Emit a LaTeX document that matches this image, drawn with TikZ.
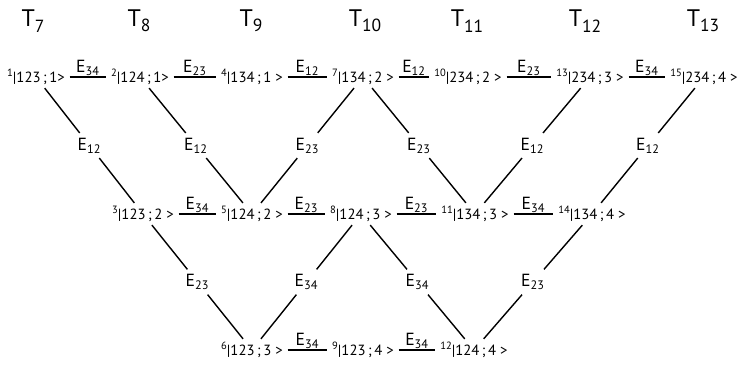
\documentclass[tikz,border=0pt]{standalone}
\usepackage{fontspec}
\setmainfont{PT Sans}
\usetikzlibrary{calc}

\newcommand{\tsub}[1]{\raisebox{-0.45ex}{\fontsize{12.5}{13}\selectfont #1}}
\newcommand{\knum}[1]{\raisebox{0.75ex}{\fontsize{7.5}{8}\selectfont #1}}

\begin{document}
\begin{tikzpicture}[
    x=0.025cm, y=-0.025cm,
    ket/.style={inner xsep=3pt, inner ysep=2pt, font=\fontsize{10.5}{12}\selectfont},
    lbl/.style={inner sep=3pt, font=\fontsize{12.5}{14}\selectfont},
    hlbl/.style={above, inner sep=0.5pt, font=\fontsize{12.5}{14}\selectfont},
    tlbl/.style={font=\fontsize{17}{20}\selectfont},
    line width=1pt
]
    \useasboundingbox (0,0) rectangle (737,369);

    % time steps
    \node[tlbl] (t7)  at (33,21)  {T\tsub{7}};
    \node[tlbl] (t8)  at (139,21) {T\tsub{8}};
    \node[tlbl] (t9)  at (251,21) {T\tsub{9}};
    \node[tlbl] (t10) at (365,21) {T\tsub{10}};
    \node[tlbl] (t11) at (467,21) {T\tsub{11}};
    \node[tlbl] (t12) at (585,21) {T\tsub{12}};
    \node[tlbl] (t13) at (703,21) {T\tsub{13}};

    % states, top row
    \node[ket] (s1)  at (36,77)  {\knum{1}|123\,;\,1>};
    \node[ket] (s2)  at (140,77) {\knum{2}|124\,;\,1>};
    \node[ket] (s4)  at (252,77) {\knum{4}|134\,;\,1 >};
    \node[ket] (s7)  at (363,77) {\knum{7}|134\,;\,2 >};
    \node[ket] (s10) at (468,77) {\knum{10}|234\,;\,2 >};
    \node[ket] (s13) at (590,77) {\knum{13}|234\,;\,3 >};
    \node[ket] (s15) at (704,77) {\knum{15}|234\,;\,4 >};

    % states, middle row
    \node[ket] (s3)  at (143,214) {\knum{3}|123\,;\,2 >};
    \node[ket] (s5)  at (252,214) {\knum{5}|124\,;\,2 >};
    \node[ket] (s8)  at (361,214) {\knum{8}|124\,;\,3 >};
    \node[ket] (s11) at (475,214) {\knum{11}|134\,;\,3 >};
    \node[ket] (s14) at (592,214) {\knum{14}|134\,;\,4 >};

    % states, bottom row
    \node[ket] (s6)  at (252,350) {\knum{6}|123\,;\,3 >};
    \node[ket] (s9)  at (363,350) {\knum{9}|123\,;\,4 >};
    \node[ket] (s12) at (474,350) {\knum{12}|124\,;\,4 >};

    % horizontal steps
    \draw (s1) -- node[hlbl] {E\textsubscript{34}} (s2);
    \draw (s2) -- node[hlbl] {E\textsubscript{23}} (s4);
    \draw (s4) -- node[hlbl] {E\textsubscript{12}} (s7);
    \draw (s7) -- node[hlbl] {E\textsubscript{12}} (s10);
    \draw (s10) -- node[hlbl] {E\textsubscript{23}} (s13);
    \draw (s13) -- node[hlbl] {E\textsubscript{34}} (s15);
    \draw (s3) -- node[hlbl] {E\textsubscript{34}} (s5);
    \draw (s5) -- node[hlbl] {E\textsubscript{23}} (s8);
    \draw (s8) -- node[hlbl] {E\textsubscript{23}} (s11);
    \draw (s11) -- node[hlbl] {E\textsubscript{34}} (s14);
    \draw (s6) -- node[hlbl] {E\textsubscript{34}} (s9);
    \draw (s9) -- node[hlbl] {E\textsubscript{34}} (s12);

    % diagonal steps
    \node[lbl] (d1)  at ($(s1)!.5!(s3)$)   {E\textsubscript{12}};
    \node[lbl] (d2)  at ($(s2)!.5!(s5)$)   {E\textsubscript{12}};
    \node[lbl] (d3)  at ($(s7)!.5!(s5)$)   {E\textsubscript{23}};
    \node[lbl] (d4)  at ($(s7)!.5!(s11)$)  {E\textsubscript{23}};
    \node[lbl] (d5)  at ($(s13)!.5!(s11)$) {E\textsubscript{12}};
    \node[lbl] (d6)  at ($(s15)!.5!(s14)$) {E\textsubscript{12}};
    \node[lbl] (d7)  at ($(s3)!.5!(s6)$)   {E\textsubscript{23}};
    \node[lbl] (d8)  at ($(s8)!.5!(s6)$)   {E\textsubscript{34}};
    \node[lbl] (d9)  at ($(s8)!.5!(s12)$)  {E\textsubscript{34}};
    \node[lbl] (d10) at ($(s14)!.5!(s12)$) {E\textsubscript{23}};

    \draw (s1) -- (d1) -- (s3);
    \draw (s2) -- (d2) -- (s5);
    \draw (s7) -- (d3) -- (s5);
    \draw (s7) -- (d4) -- (s11);
    \draw (s13) -- (d5) -- (s11);
    \draw (s15) -- (d6) -- (s14);
    \draw (s3) -- (d7) -- (s6);
    \draw (s8) -- (d8) -- (s6);
    \draw (s8) -- (d9) -- (s12);
    \draw (s14) -- (d10) -- (s12);
\end{tikzpicture}
\end{document}
